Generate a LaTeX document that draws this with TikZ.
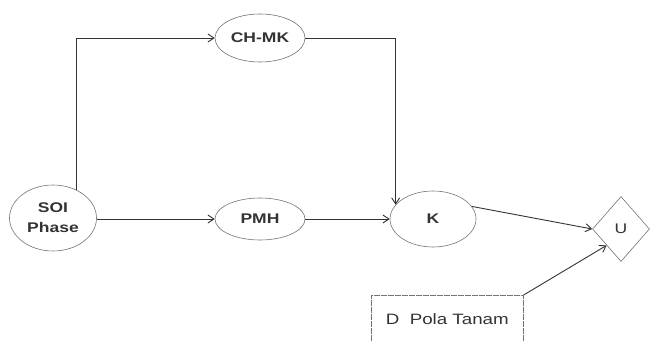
\documentclass[tikz,border=0pt]{standalone}
\usepackage{fontspec}
\setmainfont[FakeStretch=1.25]{Liberation Sans}
\usetikzlibrary{shapes.geometric,arrows.meta}
\tikzset{
        oval/.style={draw=black!55, ellipse, line width=0.6pt, inner sep=0pt, font=\fontsize{14}{15}\selectfont\bfseries, text=black!80, align=center},
        decision/.style={draw=black!55, diamond, line width=0.6pt, inner sep=0pt, minimum width=57, minimum height=65, font=\fontsize{14}{15}\selectfont, text=black!80},
        box/.style={draw=black!55, rectangle, line width=0.6pt, dashed, dash pattern=on 6pt off 1pt, minimum width=152, minimum height=48, font=\fontsize{15}{16}\selectfont, text=black!80},
        flow/.style={draw=black!80, line width=0.9pt, -{Straight Barb[length=6pt,width=8pt]}},
    }
\begin{document}
\begin{tikzpicture}[x=1pt, y=-1pt]
        \useasboundingbox (0,0) rectangle (650,340);
        \clip (0,0) rectangle (650,340);

        % Ellipses
        \node[oval, minimum width=87, minimum height=66] (soi) at (53,218) {SOI\\[5pt]Phase};
        \node[oval, minimum width=90, minimum height=48] (chmk) at (260,38) {CH-MK};
        \node[oval, minimum width=90, minimum height=42] (pmh) at (260,219) {PMH};
        \node[oval, minimum width=86, minimum height=56] (k) at (433,219) {K};

        % Decision and box
        \node[decision] (u) at (621,229) {U};
        \node[box, anchor=north west] (pola) at (371,295) {D\ \ Pola Tanam};

        % Connectors
        \draw[flow] (soi.51) |- (chmk.west);
        \draw[flow] (chmk.east) -| (k.159);
        \draw[flow] (soi.east |- pmh.west) -- (pmh.west);
        \draw[flow] (pmh.east) -- (k.west);
        \draw[flow] (k.18) -- (u.west);
        \draw[flow] (pola.north east) -- (u.south west);

    \end{tikzpicture}
\end{document}
